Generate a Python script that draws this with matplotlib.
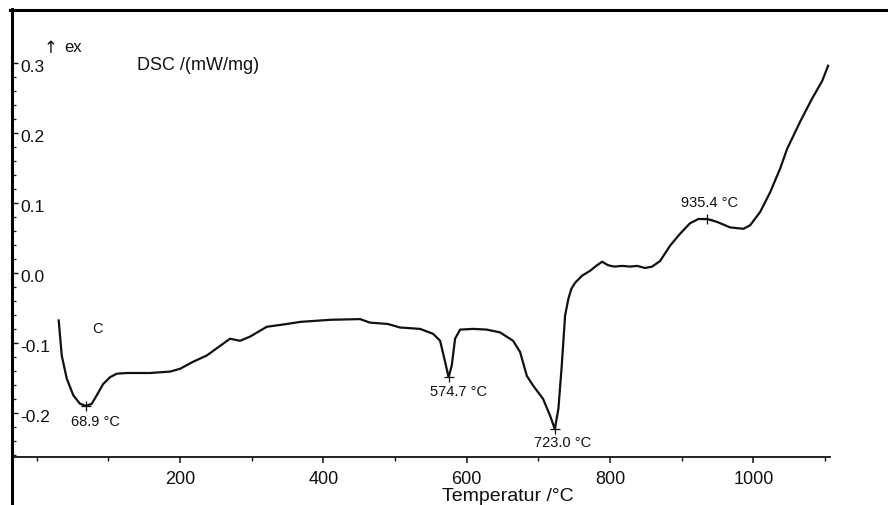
import matplotlib
matplotlib.use("Agg")
import matplotlib.pyplot as plt
from matplotlib.lines import Line2D
from matplotlib.transforms import blended_transform_factory
from matplotlib.ticker import MultipleLocator, FixedLocator

# ---- DSC trace (temperature in °C, signal in mW/mg) ----
temperature = [30.7, 34.9, 41.9, 51.1, 60.4, 68.9, 76.8, 83.7, 92.5, 102.3,
               111.7, 125.6, 158.1, 186.0, 200.0, 218.1, 237.3, 269.8, 283.7,
               297.7, 321.0, 348.9, 367.5, 409.3, 451.2, 465.0, 490.0, 507.0,
               535.0, 553.1, 562.9, 569.9, 574.7, 579.2, 583.8, 590.8, 608.9,
               628.0, 646.6, 664.8, 674.5, 683.9, 692.7, 706.6, 716.4, 723.0,
               728.0, 732.7, 737.3, 741.9, 746.0, 751.3, 761.0, 772.2, 782.0,
               789.0, 797.3, 805.7, 816.9, 828.0, 837.8, 849.0, 858.8, 869.9,
               883.9, 897.8, 911.8, 923.4, 935.4, 949.0, 967.6, 986.2, 995.5,
               1009.5, 1023.4, 1037.4, 1047.1, 1065.3, 1082.0, 1096.0, 1104.4]
dsc = [-0.068, -0.118, -0.151, -0.175, -0.187, -0.190, -0.187, -0.175, -0.159,
       -0.149, -0.144, -0.143, -0.143, -0.141, -0.137, -0.127, -0.118, -0.094,
       -0.097, -0.091, -0.077, -0.073, -0.070, -0.067, -0.066, -0.071, -0.073,
       -0.078, -0.080, -0.087, -0.097, -0.127, -0.149, -0.132, -0.094, -0.081,
       -0.080, -0.081, -0.085, -0.097, -0.113, -0.147, -0.161, -0.180, -0.204,
       -0.223, -0.194, -0.132, -0.061, -0.037, -0.023, -0.014, -0.004, 0.003,
       0.011, 0.016, 0.011, 0.009, 0.010, 0.009, 0.010, 0.007, 0.009, 0.017,
       0.039, 0.056, 0.071, 0.077, 0.077, 0.073, 0.065, 0.063, 0.068, 0.087,
       0.115, 0.149, 0.177, 0.216, 0.249, 0.274, 0.296]

# marked peak temperatures and their signal values
peak_temp = [68.9, 574.7, 723.0, 935.4]
peak_dsc = [-0.190, -0.149, -0.223, 0.077]
peak_labels = ["68.9 °C", "574.7 °C", "723.0 °C", "935.4 °C"]
# label offsets from the peak cross (points): dx, dy
peak_offsets = [(7.0, -13.5), (7.2, -12.7), (5.6, -12.2), (1.8, 9.4)]

x_ticks = [200, 400, 600, 800, 1000]
y_ticks = [0.3, 0.2, 0.1, 0.0, -0.1, -0.2]
y_tick_labels = ["0.3", "0.2", "0.1", "0.0", "-0.1", "-0.2"]
y_minor_ticks = [round(-0.26 + 0.02 * i, 2) for i in range(29)]

plt.rcParams["font.family"] = ["Liberation Sans", "DejaVu Sans"]

W, H = 888, 506
fig = plt.figure(figsize=(W / 100, H / 100), dpi=100)
fig.patch.set_facecolor("white")


def fx(x):
    return x / W


def fy(y):
    return 1 - y / H


ax = fig.add_axes([fx(12), fy(458), fx(830) - fx(12), fy(10) - fy(458)])
ax.set_facecolor("none")

ax.plot(temperature, dsc, color="#111111", lw=1.6, solid_joinstyle="round")
ax.plot(peak_temp, peak_dsc, "+", color="#111111", ms=7, mew=0.9)

for t, v, lab, (dx, dy) in zip(peak_temp, peak_dsc, peak_labels, peak_offsets):
    ax.annotate(lab, xy=(t, v), xytext=(dx, dy), textcoords="offset points",
                ha="center", va="baseline", fontsize=10.5, color="#111111")

# spines / frame
for s in ["top", "right", "left"]:
    ax.spines[s].set_visible(False)
ax.spines["bottom"].set_linewidth(1.3)
ax.spines["bottom"].set_color("#111111")

fig.add_artist(Line2D([fx(10), 1.0], [fy(11), fy(11)], lw=2.2, color="black",
                      transform=fig.transFigure))
fig.add_artist(Line2D([fx(11.5), fx(11.5)], [fy(10), 0.0], lw=2.2,
                      color="black", transform=fig.transFigure))

# x axis ticks
ax.set_xticks(x_ticks)
ax.set_xticklabels([str(v) for v in x_ticks], fontsize=13)
ax.xaxis.set_minor_locator(MultipleLocator(100))
ax.tick_params(axis="x", which="major", direction="out", length=4, width=1.1,
               pad=5.5, colors="#111111")
ax.tick_params(axis="x", which="minor", direction="out", length=3, width=1.0,
               colors="#111111")

# y axis ticks drawn inward, labels placed inside the frame
ax.set_yticks(y_ticks)
ax.set_yticklabels([])
ax.yaxis.set_minor_locator(FixedLocator(y_minor_ticks))
ax.tick_params(axis="y", which="major", direction="in", length=4.5, width=1.0,
               colors="#111111")
ax.tick_params(axis="y", which="minor", direction="in", length=3, width=0.9,
               colors="#111111")
ax.set_xlim(-34.5, 1107)
ax.set_ylim(-0.263, 0.377)

trans = blended_transform_factory(fig.transFigure, ax.transData)
for v, lab in zip(y_ticks, y_tick_labels):
    ax.annotate(lab, xy=(fx(20.5), v), xycoords=trans, xytext=(0, -5.8),
                textcoords="offset points", ha="left", va="baseline",
                fontsize=12.5, color="#111111")

# header and axis titles
fig.text(fx(137), fy(69.5), "DSC /(mW/mg)", fontsize=13, ha="left",
         va="baseline", color="#111111")
fig.text(fx(51), fy(53.5), "↑", fontsize=12, ha="center", va="baseline",
         color="#111111", family="DejaVu Sans")
fig.text(fx(64.5), fy(52.5), "ex", fontsize=12, ha="left", va="baseline",
         color="#111111")
fig.text(fx(97.7), fy(333), "C", fontsize=10.5, ha="center", va="baseline",
         color="#111111")
fig.text(fx(508), fy(501), "Temperatur /°C", fontsize=14, ha="center",
         va="baseline", color="#111111")

fig.savefig("out.png", dpi=100, facecolor="white")
